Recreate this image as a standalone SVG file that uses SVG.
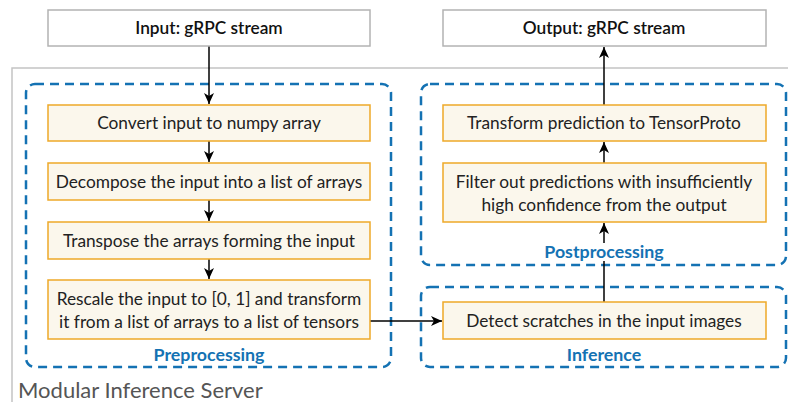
<svg xmlns="http://www.w3.org/2000/svg" width="788" height="402" viewBox="0 0 788 402">
<defs>
<marker id="arr" markerWidth="12" markerHeight="12" viewBox="0 0 12 12" refX="11" refY="6" orient="auto" markerUnits="userSpaceOnUse">
<path d="M0,1 L11,6 L0,11 L3,6 Z" fill="#000"/>
</marker>
<style>
.io{fill:#fff;stroke:#b3b3b3;stroke-width:1.5}
.step{fill:#fbf7ec;stroke:#eea928;stroke-width:1.5}
.grp{fill:none;stroke:#1472b3;stroke-width:2.5;stroke-dasharray:9 6}
.t{font-family:Lato,"Liberation Sans",sans-serif;font-size:17.3px;fill:#222;text-anchor:middle}
.tio{font-family:Lato,"Liberation Sans",sans-serif;font-size:17.3px;font-weight:600;fill:#111;text-anchor:middle}
.gl{font-family:Lato,"Liberation Sans",sans-serif;font-size:17.8px;font-weight:bold;fill:#1472b3;text-anchor:middle}
.edge{fill:none;stroke:#000;stroke-width:1.5;marker-end:url(#arr)}
</style>
</defs>
<rect width="788" height="402" fill="#fff"/>
<g id="server">
<rect x="12" y="68" width="800" height="360" fill="none" stroke="#c4c4c4" stroke-width="1.5"/>
<text x="18" y="398" font-family="Lato,'Liberation Sans',sans-serif" font-size="22" fill="#555">Modular Inference Server</text>
</g>
<g id="preprocessing">
<rect class="grp" x="26" y="84" width="365" height="283" rx="9"/>
<text class="gl" x="209" y="361">Preprocessing</text>
</g>
<g id="postprocessing">
<rect class="grp" x="421" y="84" width="365" height="181" rx="9"/>
</g>
<g id="inference">
<rect class="grp" x="421" y="287" width="365" height="80" rx="9"/>
<text class="gl" x="604" y="361">Inference</text>
</g>
<g id="connectors">
<path class="edge" d="M209,46 V104"/>
<path class="edge" d="M209,141 V162"/>
<path class="edge" d="M209,200 V221"/>
<path class="edge" d="M209,259 V279"/>
<path class="edge" d="M370,321 H442"/>
<path class="edge" d="M604,302 V223"/>
<path class="edge" d="M604,163 V142"/>
<path class="edge" d="M604,105 V47"/>
</g>
<g id="postprocessing-label">
<rect x="546" y="243" width="116" height="18" fill="#fff"/>
<text class="gl" x="604" y="258">Postprocessing</text>
</g>
<g id="input">
<rect class="io" x="48" y="10" width="322" height="36"/>
<text class="tio" x="209" y="34">Input: gRPC stream</text>
</g>
<g id="output">
<rect class="io" x="443" y="10" width="323" height="36"/>
<text class="tio" x="604" y="34">Output: gRPC stream</text>
</g>
<g id="convert">
<rect class="step" x="48" y="105" width="322" height="36"/>
<text class="t" x="209" y="129">Convert input to numpy array</text>
</g>
<g id="decompose">
<rect class="step" x="48" y="163" width="322" height="37"/>
<text class="t" x="209" y="188">Decompose the input into a list of arrays</text>
</g>
<g id="transpose">
<rect class="step" x="48" y="222" width="322" height="37"/>
<text class="t" x="209" y="247">Transpose the arrays forming the input</text>
</g>
<g id="rescale">
<rect class="step" x="48" y="280" width="322" height="59"/>
<text class="t" x="209" y="305">Rescale the input to [0, 1] and transform</text>
<text class="t" x="209" y="328">it from a list of arrays to a list of tensors</text>
</g>
<g id="transform">
<rect class="step" x="443" y="105" width="323" height="36"/>
<text class="t" x="604" y="129">Transform prediction to TensorProto</text>
</g>
<g id="filter">
<rect class="step" x="443" y="163" width="323" height="59"/>
<text class="t" x="604" y="188">Filter out predictions with insufficiently</text>
<text class="t" x="604" y="211">high confidence from the output</text>
</g>
<g id="detect">
<rect class="step" x="443" y="302" width="323" height="37"/>
<text class="t" x="604" y="327">Detect scratches in the input images</text>
</g>
</svg>
